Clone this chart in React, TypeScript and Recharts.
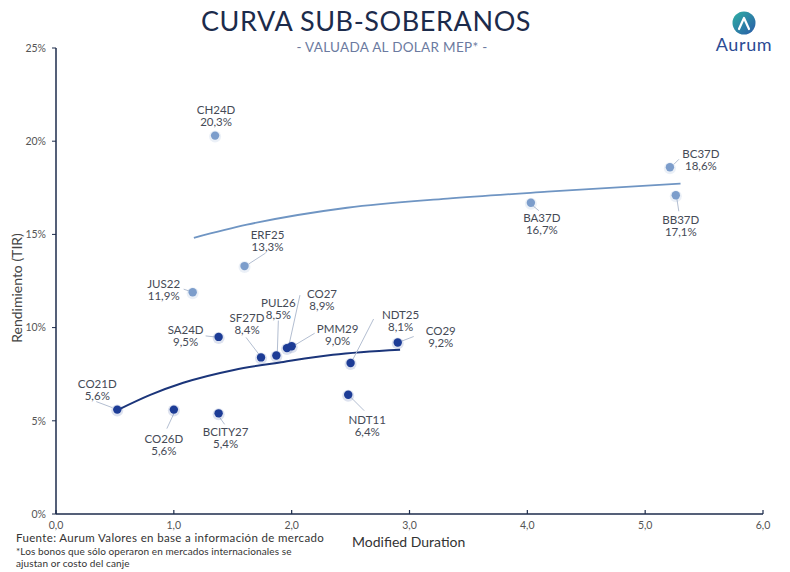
import React from "react";
import { ScatterChart, Scatter, XAxis, YAxis } from "recharts";

// bonds plotted in dark blue (local / canje-adjusted)
const darkBonds = ["CO21D", "CO26D", "BCITY27", "SA24D", "SF27D", "PUL26", "CO27", "PMM29", "NDT25", "CO29", "NDT11"];
const darkDuration = [0.52, 1.0, 1.38, 1.38, 1.74, 1.87, 1.96, 2.0, 2.5, 2.9, 2.48];
const darkYield = [5.6, 5.6, 5.4, 9.5, 8.4, 8.5, 8.9, 9.0, 8.1, 9.2, 6.4];

// bonds plotted in light blue
const lightBonds = ["CH24D", "ERF25", "JUS22", "BA37D", "BC37D", "BB37D"];
const lightDuration = [1.35, 1.6, 1.16, 4.03, 5.21, 5.26];
const lightYield = [20.3, 13.3, 11.9, 16.7, 18.6, 17.1];

// trend curves
const darkTrendX = [0.53, 0.8, 1.08, 1.51, 1.93, 2.35, 2.92];
const darkTrendY = [5.6, 6.39, 7.04, 7.73, 8.16, 8.54, 8.81];
const lightTrendX = [1.17, 1.62, 2.47, 3.32, 4.17, 5.3];
const lightTrendY = [14.82, 15.52, 16.43, 16.92, 17.29, 17.72];

const xTicks = [0, 1, 2, 3, 4, 5, 6];
const yTicks = [0, 5, 10, 15, 20, 25];

// label placement relative to each dot: name centre (dx, dy) and leader line
const labelLayout: Record<string, { dx: number; dy: number; lead?: number[] }> = {
  CO21D: { dx: -20, dy: -26, lead: [-21, -8, -5, -2] },
  CO26D: { dx: -10, dy: 29, lead: [0, 4, -7, 19] },
  BCITY27: { dx: 7, dy: 18, lead: [1, 4, 6, 11] },
  SA24D: { dx: -33, dy: -7, lead: [-13, -1, -4, 0] },
  JUS22: { dx: -29, dy: -9, lead: [-9, -3, -3, -1] },
  SF27D: { dx: -14, dy: -40, lead: [-15, -20, -2, -3] },
  PUL26: { dx: 2, dy: -53, lead: [2, -35, 1, -4] },
  CO27: { dx: 35, dy: -55, lead: [13, -53, 2, -3] },
  PMM29: { dx: 46, dy: -18, lead: [23, -13, 3, -1] },
  NDT25: { dx: 50, dy: -49, lead: [23, -44, 2, -3] },
  CO29: { dx: 43, dy: -12, lead: [16, -6, 3, -1] },
  NDT11: { dx: 19, dy: 25, lead: [2, 2, 16, 16] },
  CH24D: { dx: 1, dy: -26 },
  ERF25: { dx: 23, dy: -32, lead: [21, -13, 4, -2] },
  BA37D: { dx: 11, dy: 15, lead: [2, 3, 8, 8] },
  BB37D: { dx: 5, dy: 24, lead: [1, 3, 3, 16] },
  BC37D: { dx: 31, dy: -14, lead: [9, -8, 4, -3] },
};

const fmt = (v: number) => v.toFixed(1).replace(".", ",");

const darkData = darkBonds.map((name, i) => ({ name, x: darkDuration[i], y: darkYield[i] }));
const lightData = lightBonds.map((name, i) => ({ name, x: lightDuration[i], y: lightYield[i] }));
const darkTrend = darkTrendX.map((x, i) => ({ x, y: darkTrendY[i] }));
const lightTrend = lightTrendX.map((x, i) => ({ x, y: lightTrendY[i] }));

const FONT = "Lato, 'Open Sans', sans-serif";
const NAVY = "#1c2b4b";

const makeDot = (color: string) => (props: any) => {
  const { cx, cy, payload } = props;
  if (cx == null || cy == null) return <g />;
  const lay = labelLayout[payload.name] || { dx: 0, dy: -20 };
  return (
    <g>
      {lay.lead && (
        <line
          x1={cx + lay.lead[0]}
          y1={cy + lay.lead[1]}
          x2={cx + lay.lead[2]}
          y2={cy + lay.lead[3]}
          stroke="#b3bed1"
          strokeWidth={1}
        />
      )}
      <circle cx={cx} cy={cy + 1} r={6} fill={color} opacity={0.15} />
      <circle cx={cx} cy={cy} r={4.2} fill={color} />
      <text
        x={cx + lay.dx}
        y={cy + lay.dy}
        textAnchor="middle"
        dominantBaseline="central"
        fontSize={11.5}
        fill="#454a56"
        fontFamily={FONT}
      >
        {payload.name}
      </text>
      <text
        x={cx + lay.dx}
        y={cy + lay.dy + 12}
        textAnchor="middle"
        dominantBaseline="central"
        fontSize={11.5}
        fill="#454a56"
        fontFamily={FONT}
      >
        {fmt(payload.y)}%
      </text>
    </g>
  );
};

const XTick = (props: any) => {
  const { x, y, payload } = props;
  return (
    <g>
      <line x1={x} y1={y} x2={x} y2={y - 4} stroke={NAVY} strokeWidth={1.2} />
      <text x={x} y={y + 14.5} textAnchor="middle" fontSize={10.5} fill="#555" fontFamily={FONT}>
        {fmt(payload.value)}
      </text>
    </g>
  );
};

export default function App() {
  return (
    <div style={{ position: "absolute", left: 0, top: 0, width: 790, height: 572, background: "#fff", fontFamily: FONT }}>
      <ScatterChart width={790} height={572} margin={{ top: 48, right: 27, bottom: 28, left: 0 }}>
        <XAxis
          type="number"
          dataKey="x"
          domain={[0, 6]}
          ticks={xTicks}
          interval={0}
          tick={<XTick />}
          tickLine={false}
          tickSize={0}
          tickMargin={0}
          height={30}
          axisLine={{ stroke: NAVY, strokeWidth: 1.5 }}
        />
        <YAxis
          type="number"
          dataKey="y"
          domain={[0, 25]}
          ticks={yTicks}
          interval={0}
          width={56}
          tickSize={4}
          tickMargin={6}
          tickFormatter={(v) => `${v}%`}
          tick={{ fontSize: 10.5, fill: "#555", fontFamily: FONT }}
          tickLine={{ stroke: NAVY }}
          axisLine={{ stroke: NAVY, strokeWidth: 1.5 }}
        />
        <Scatter
          data={lightTrend}
          line={{ stroke: "#6f95c3", strokeWidth: 1.8 }}
          lineJointType="monotoneX"
          shape={() => <g />}
          isAnimationActive={false}
        />
        <Scatter
          data={darkTrend}
          line={{ stroke: "#1b357a", strokeWidth: 2 }}
          lineJointType="monotoneX"
          shape={() => <g />}
          isAnimationActive={false}
        />
        <Scatter data={lightData} shape={makeDot("#7c9dcb")} isAnimationActive={false} />
        <Scatter data={darkData} shape={makeDot("#1d3c96")} isAnimationActive={false} />
      </ScatterChart>

      <div
        style={{
          position: "absolute",
          left: 366,
          top: 4,
          transform: "translateX(-50%)",
          whiteSpace: "nowrap",
          fontSize: 27,
          fontWeight: 400,
          color: NAVY,
          letterSpacing: 0.6,
        }}
      >
        CURVA SUB-SOBERANOS
      </div>
      <div
        style={{
          position: "absolute",
          left: 392,
          top: 39,
          transform: "translateX(-50%)",
          whiteSpace: "nowrap",
          fontSize: 13.5,
          color: "#6b7aa0",
          letterSpacing: 0.3,
        }}
      >
        - VALUADA AL DOLAR MEP* -
      </div>

      <svg width={80} height={60} style={{ position: "absolute", left: 704, top: 0 }}>
        <defs>
          <linearGradient id="logoGrad" x1="0" y1="0" x2="1" y2="1">
            <stop offset="0%" stopColor="#2fb0a3" />
            <stop offset="100%" stopColor="#2a5aa8" />
          </linearGradient>
        </defs>
        <circle cx={40} cy={23} r={11.5} fill="url(#logoGrad)" />
        <path d="M35,29 L40,18 L45,29" fill="none" stroke="#fff" strokeWidth={2.2} strokeLinecap="round" strokeLinejoin="round" />
        <text x={40} y={51} textAnchor="middle" fontSize={18} fill="#2b4c94" fontFamily={FONT} letterSpacing={0.6}>
          Aurum
        </text>
      </svg>

      <div
        style={{
          position: "absolute",
          left: 16,
          top: 288,
          transform: "translate(-50%, -50%) rotate(-90deg)",
          whiteSpace: "nowrap",
          fontSize: 14,
          color: "#444",
        }}
      >
        Rendimiento (TIR)
      </div>

      <div style={{ position: "absolute", left: 352, top: 534, fontSize: 14, lineHeight: "16px", color: "#333", whiteSpace: "nowrap" }}>
        Modified Duration
      </div>
      <div style={{ position: "absolute", left: 16, top: 532, fontSize: 11.5, lineHeight: "12px", color: "#333", whiteSpace: "nowrap", letterSpacing: 0.35 }}>
        Fuente: Aurum Valores en base a información de mercado
      </div>
      <div style={{ position: "absolute", left: 16, top: 546, fontSize: 10, color: "#333", whiteSpace: "nowrap", lineHeight: "11.5px", letterSpacing: 0.1 }}>
        *Los bonos que sólo operaron en mercados internacionales se
        <br />
        ajustan or costo del canje
      </div>
    </div>
  );
}
